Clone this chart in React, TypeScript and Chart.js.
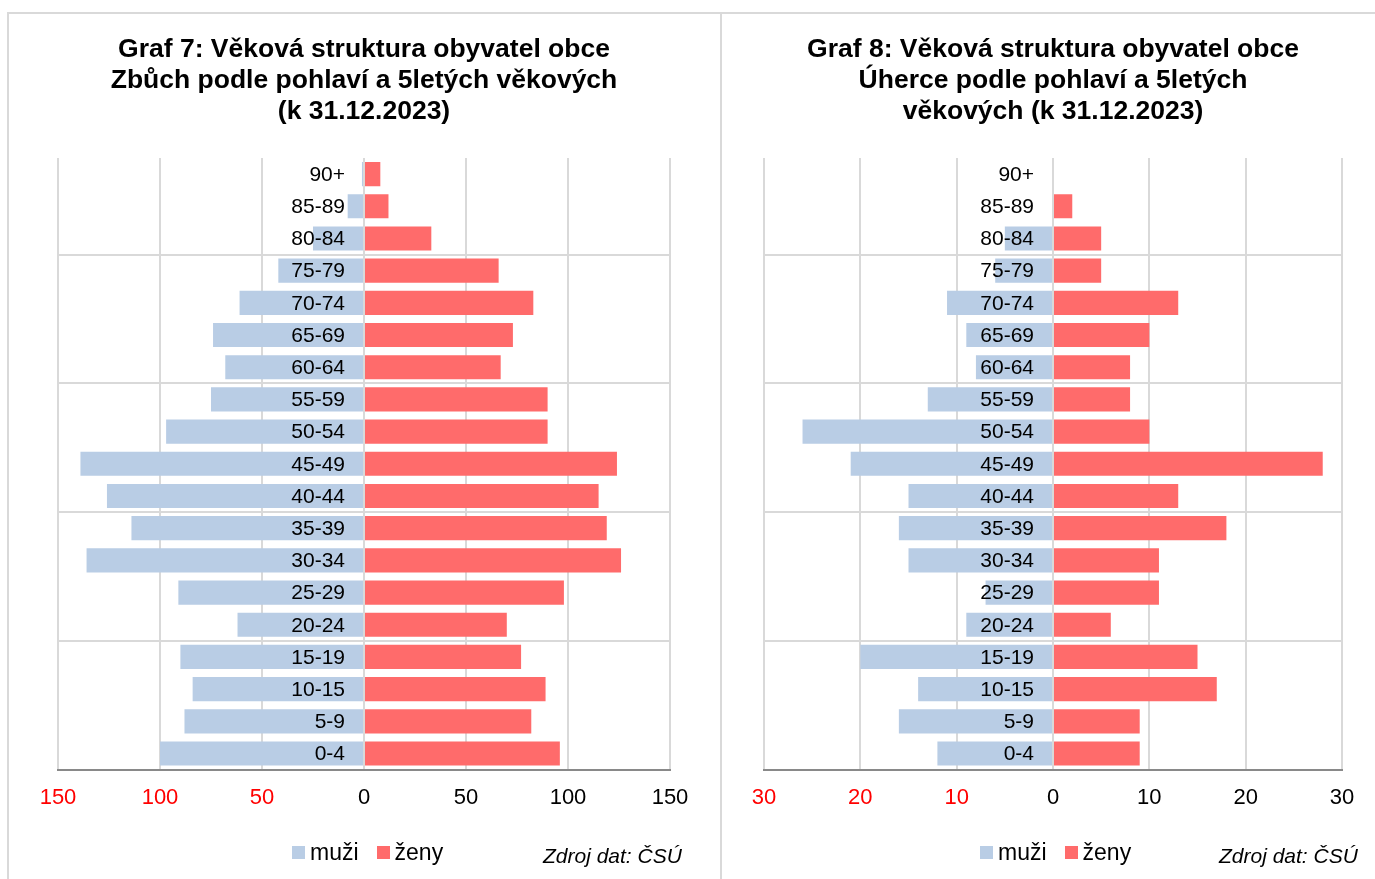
import React, { useEffect, useRef } from "react";
import { Chart, registerables } from "chart.js";

Chart.register(...registerables);

// ---- data (top row first) ----
const ageGroups = ["90+", "85-89", "80-84", "75-79", "70-74", "65-69", "60-64", "55-59", "50-54", "45-49", "40-44", "35-39", "30-34", "25-29", "20-24", "15-19", "10-15", "5-9", "0-4"];

const zbuchMen = [1, 8, 25, 42, 61, 74, 68, 75, 97, 139, 126, 114, 136, 91, 62, 90, 84, 88, 100];
const zbuchWomen = [8, 12, 33, 66, 83, 73, 67, 90, 90, 124, 115, 119, 126, 98, 70, 77, 89, 82, 96];

const uherceMen = [0, 0, 5, 6, 11, 9, 8, 13, 26, 21, 15, 16, 15, 7, 9, 20, 14, 16, 12];
const uherceWomen = [0, 2, 5, 5, 13, 10, 8, 8, 10, 28, 13, 18, 11, 11, 6, 15, 17, 9, 9];

const zbuchTicks = [-150, -100, -50, 0, 50, 100, 150];
const uherceTicks = [-30, -20, -10, 0, 10, 20, 30];
// horizontal guide lines: drawn above these age groups (index from the top)
const guideRows = [3, 7, 11, 15];

const zbuchTitle = ["Graf 7: Věková struktura obyvatel obce", "Zbůch podle pohlaví a 5letých věkových", "(k 31.12.2023)"];
const uherceTitle = ["Graf 8: Věková struktura obyvatel obce", "Úherce podle pohlaví a 5letých", "věkových (k 31.12.2023)"];
const seriesNames = ["muži", "ženy"];
const sourceNote = "Zdroj dat: ČSÚ";

// ---- style ----
const FONT = "'Liberation Sans', Arial, Helvetica, sans-serif";
const BLUE = "#B9CDE5";
const RED = "#FF6B6B";
const seriesColors = [BLUE, RED];
const GRID = "#D9D9D9";
const FRAME = "#D9D9D9";

const ageLabelPlugin = {
  id: "ageLabels",
  afterDatasetsDraw(chart: any) {
    const { ctx } = chart;
    const xs = chart.scales.x;
    const ys = chart.scales.y;
    const x = xs.getPixelForValue(0) - 19;
    ctx.save();
    ctx.font = `21px ${FONT}`;
    ctx.fillStyle = "#000000";
    ctx.textAlign = "right";
    ctx.textBaseline = "middle";
    const labels: string[] = ys.getLabels();
    labels.forEach((label, i) => {
      ctx.fillText(label, x, ys.getPixelForValue(i) + 1);
    });
    ctx.restore();
  },
};

type PyramidProps = {
  title: string[];
  men: number[];
  women: number[];
  ticks: number[];
  width: number;
  height: number;
  padX: number;
};

function Pyramid({ title, men, women, ticks, width, height, padX }: PyramidProps) {
  const ref = useRef<HTMLCanvasElement>(null);

  useEffect(() => {
    if (!ref.current) return;
    const chart = new Chart(ref.current, {
      type: "bar",
      data: {
        labels: ageGroups,
        datasets: [
          {
            label: seriesNames[0],
            data: men.map((v) => -v),
            backgroundColor: BLUE,
            borderWidth: 0,
            barPercentage: 0.75,
            categoryPercentage: 1,
          },
          {
            label: seriesNames[1],
            data: women,
            backgroundColor: RED,
            borderWidth: 0,
            barPercentage: 0.75,
            categoryPercentage: 1,
          },
        ],
      },
      options: {
        indexAxis: "y",
        responsive: false,
        animation: false,
        layout: { padding: { left: padX, right: padX, top: 0, bottom: 53 } },
        scales: {
          x: {
            type: "linear",
            stacked: true,
            min: ticks[0],
            max: ticks[ticks.length - 1],
            afterBuildTicks: (s: any) => {
              s.ticks = ticks.map((v) => ({ value: v }));
            },
            grid: { color: GRID, lineWidth: 2, drawTicks: false },
            border: { color: "#898989", width: 2 },
            ticks: {
              padding: 15,
              autoSkip: false,
              maxRotation: 0,
              font: { size: 22, family: FONT },
              color: (c: any) => (c.tick && c.tick.value < 0 ? "#FF0000" : "#000000"),
              callback: (v: any) => String(Math.abs(Number(v))),
            },
          },
          y: {
            type: "category",
            stacked: true,
            display: true,
            grid: {
              offset: true,
              drawTicks: false,
              lineWidth: 2,
              color: (c: any) => (guideRows.includes(c.index) ? GRID : "rgba(0,0,0,0)"),
            },
            border: { display: false },
            ticks: { display: false },
          },
        },
        plugins: {
          title: {
            display: true,
            text: title,
            color: "#000000",
            font: { size: 26.5, weight: "bold", family: FONT, lineHeight: 31 / 26.5 },
            padding: { top: 21, bottom: 31 },
          },
          legend: { display: false },
          tooltip: { enabled: false },
        },
      } as any,
      plugins: [ageLabelPlugin],
    });
    return () => chart.destroy();
  }, []);

  return <canvas ref={ref} width={width} height={height} style={{ width, height, display: "block" }} />;
}

function Legend({ left, top }: { left: number; top: number }) {
  return (
    <div
      style={{
        position: "absolute",
        left,
        top,
        display: "flex",
        alignItems: "center",
        fontFamily: FONT,
        fontSize: 23,
        lineHeight: "26px",
        color: "#000",
        whiteSpace: "nowrap",
      }}
    >
      {seriesNames.map((name, i) => (
        <div key={name} style={{ display: "flex", alignItems: "center", marginRight: i === 0 ? 18 : 0 }}>
          <span style={{ display: "inline-block", width: 13, height: 13, background: seriesColors[i], marginRight: 5 }} />
          <span>{name}</span>
        </div>
      ))}
    </div>
  );
}

const noteStyle: React.CSSProperties = {
  position: "absolute",
  fontFamily: FONT,
  fontStyle: "italic",
  fontSize: 21,
  lineHeight: "21px",
  color: "#000",
  whiteSpace: "nowrap",
};

export default function App() {
  return (
    <div
      style={{
        position: "absolute",
        left: 0,
        top: 0,
        width: 1375,
        height: 879,
        overflow: "hidden",
        background: "#fff",
      }}
    >
      <div style={{ position: "absolute", left: 7, top: 12, width: 1368, height: 2, background: FRAME }} />
      <div style={{ position: "absolute", left: 7, top: 12, width: 2, height: 867, background: FRAME }} />
      <div style={{ position: "absolute", left: 720, top: 12, width: 2, height: 867, background: FRAME }} />

      <div style={{ position: "absolute", left: 8, top: 13 }}>
        <Pyramid title={zbuchTitle} men={zbuchMen} women={zbuchWomen} ticks={zbuchTicks} width={712} height={866} padX={50} />
      </div>
      <div style={{ position: "absolute", left: 722, top: 13 }}>
        <Pyramid title={uherceTitle} men={uherceMen} women={uherceWomen} ticks={uherceTicks} width={662} height={866} padX={42} />
      </div>

      <Legend left={292} top={839} />
      <Legend left={980} top={839} />

      <div style={{ ...noteStyle, left: 543, top: 845 }}>{sourceNote}</div>
      <div style={{ ...noteStyle, left: 1219, top: 845 }}>{sourceNote}</div>
    </div>
  );
}
